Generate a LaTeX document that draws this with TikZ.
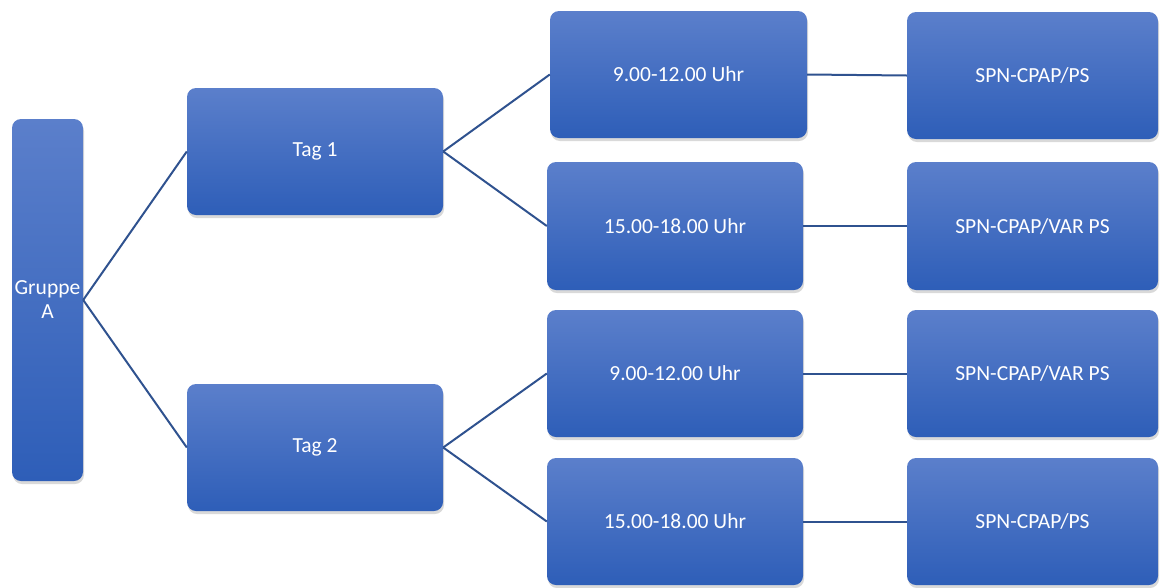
\documentclass[tikz,border=0pt]{standalone}
\usepackage{fontspec}
\setmainfont{Carlito}
\usetikzlibrary{shadows}
\definecolor{boxtop}{HTML}{5B7FCB}
\definecolor{boxbot}{HTML}{2E5EB8}
\definecolor{linkblue}{HTML}{2F528F}
\tikzset{
  stage/.style={draw=none, rounded corners=9pt, top color=boxtop, bottom color=boxbot,
    text=white, font=\fontsize{21.5}{24}\selectfont, align=center, inner sep=0pt,
    minimum width=256pt, minimum height=127pt,
    drop shadow={shadow xshift=1pt, shadow yshift=-3pt, opacity=0.3}},
  link/.style={draw=linkblue, line width=2pt}
}
\begin{document}
\begin{tikzpicture}[x=1pt,y=-1pt]
\useasboundingbox (0,0) rectangle (1160,587);

% group and days
\node[stage, minimum width=71pt, minimum height=362pt] (grp) at (47.5,300) {Gruppe\\A};
\node[stage] (tag1) at (315,151.5) {Tag 1};
\node[stage] (tag2) at (315,447.5) {Tag 2};

% time slots
\node[stage, minimum width=257pt] (t11) at (678.5,74.5) {9.00-12.00 Uhr};
\node[stage, minimum height=128pt] (t12) at (675,226) {15.00-18.00 Uhr};
\node[stage] (t21) at (675,373.5) {9.00-12.00 Uhr};
\node[stage] (t22) at (675,521.5) {15.00-18.00 Uhr};

% ventilation modes
\node[stage, minimum width=251pt] (p11) at (1032.5,75.5) {SPN-CPAP/PS};
\node[stage, minimum width=251pt, minimum height=128pt] (p12) at (1032.5,226) {SPN-CPAP/VAR PS};
\node[stage, minimum width=251pt] (p21) at (1032.5,373.5) {SPN-CPAP/VAR PS};
\node[stage, minimum width=251pt] (p22) at (1032.5,521.5) {SPN-CPAP/PS};

\draw[link] (grp.east) -- (tag1.west);
\draw[link] (grp.east) -- (tag2.west);
\draw[link] (tag1.east) -- (t11.west);
\draw[link] (tag1.east) -- (t12.west);
\draw[link] (tag2.east) -- (t21.west);
\draw[link] (tag2.east) -- (t22.west);
\draw[link] (t11.east) -- (p11.west);
\draw[link] (t12.east) -- (p12.west);
\draw[link] (t21.east) -- (p21.west);
\draw[link] (t22.east) -- (p22.west);
\end{tikzpicture}
\end{document}
